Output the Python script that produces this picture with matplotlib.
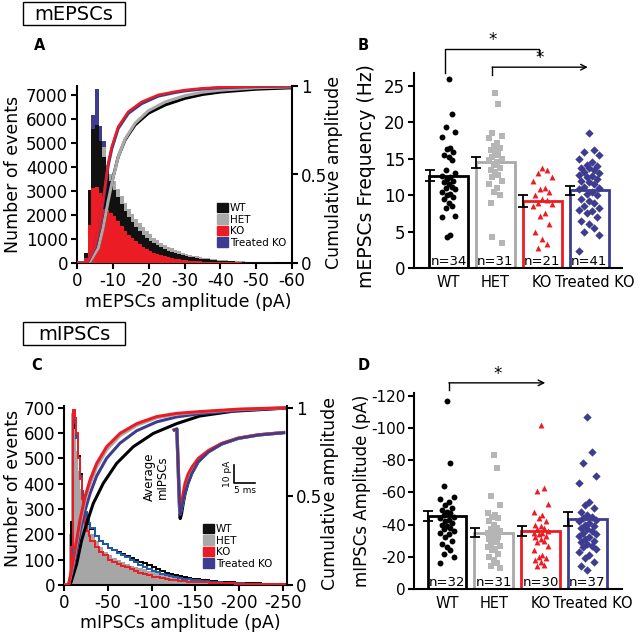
import numpy as np
import matplotlib
matplotlib.use("Agg")
import matplotlib.pyplot as plt
from matplotlib.patches import Patch, Rectangle

plt.rcParams["font.family"] = ["DejaVu Sans"]

# ---------------- data ----------------
groups = ["WT", "HET", "KO", "Treated KO"]

# panel A: mEPSC amplitude histograms, 1 pA bins from 0 to 60
wt_hist_a = [0, 50, 400, 3040, 5600, 5750, 5100, 4400, 3900, 3400,
             3050, 2750, 2450, 2150, 1900, 1700, 1500, 1330, 1180, 1050,
             930, 820, 730, 650, 580, 515, 460, 410, 365, 325,
             290, 258, 230, 205, 183, 163, 146, 130, 116, 104,
             93, 83, 74, 66, 59, 53, 47, 42, 38, 34,
             31, 28, 25, 23, 21, 19, 18, 17, 16, 15]
het_hist_a = [0, 30, 300, 2600, 5000, 5300, 4700, 4850, 4100, 3700,
              3400, 3100, 2800, 2500, 2250, 2030, 1830, 1650, 1480, 1330,
              1190, 1060, 950, 850, 760, 680, 605, 540, 480, 430,
              385, 345, 308, 275, 245, 218, 195, 174, 155, 138,
              123, 110, 98, 88, 79, 71, 64, 58, 52, 47,
              43, 39, 36, 33, 30, 28, 26, 24, 22, 20]
ko_hist_a = [0, 20, 200, 1600, 3130, 3180, 2900, 2250, 2200, 2100,
             1950, 1750, 1550, 1350, 1180, 1030, 900, 780, 670, 580,
             500, 430, 370, 320, 275, 235, 200, 172, 148, 128,
             110, 96, 84, 74, 65, 58, 52, 47, 42, 38,
             34, 31, 28, 25, 23, 21, 19, 17, 15, 14,
             13, 12, 11, 10, 9, 9, 8, 8, 7, 7]
tko_hist_a = [0, 30, 300, 3000, 6170, 7240, 5700, 5100, 3800, 3300,
              2900, 2550, 2250, 1950, 1700, 1480, 1290, 1120, 980, 850,
              740, 640, 560, 490, 430, 375, 330, 290, 255, 225,
              200, 178, 158, 140, 124, 110, 98, 87, 77, 69,
              61, 54, 48, 43, 38, 34, 30, 27, 24, 22,
              20, 18, 16, 15, 14, 13, 12, 11, 10, 9]

# panel A: cumulative amplitude curves
cum_amp_a_fast = [0, 2.5, 3, 5, 6.4, 7.8, 8.7, 9.7, 11.5, 14.3, 18, 22.7, 27.3, 30, 35, 40, 50, 60]
ko_cum_a = [0, 0, 0.007, 0.09, 0.24, 0.43, 0.563, 0.657, 0.77, 0.855, 0.91, 0.95, 0.968, 0.977, 0.987, 0.993, 0.998, 1.0]
tko_cum_a = [0, 0, 0.006, 0.085, 0.23, 0.42, 0.55, 0.645, 0.76, 0.845, 0.9, 0.943, 0.963, 0.972, 0.983, 0.99, 0.997, 1.0]
cum_amp_a_slow = [0, 3, 3.6, 5.95, 7.3, 8.7, 10.1, 11.5, 13.4, 16.2, 19.9, 24.6, 30.1, 35, 40, 50, 60]
wt_cum_a = [0, 0, 0.007, 0.09, 0.205, 0.356, 0.488, 0.6, 0.695, 0.78, 0.846, 0.893, 0.93, 0.952, 0.966, 0.982, 0.99]
het_cum_a = [0, 0, 0.007, 0.085, 0.2, 0.35, 0.485, 0.6, 0.7, 0.79, 0.86, 0.91, 0.945, 0.965, 0.976, 0.99, 0.995]

# panel B: mEPSC frequency (Hz)
freq_mean = [12.7, 14.5, 9.2, 10.7]
freq_sem = [0.8, 0.8, 0.8, 0.6]
freq_n = [34, 31, 21, 41]
freq_wt = [26.0, 21.2, 19.4, 18.7, 18.0, 16.5, 16.3, 16.0, 15.5, 15.3, 14.8, 13.5, 13.0, 12.7, 12.5, 12.3, 12.0,
           11.8, 11.5, 11.2, 11.0, 10.8, 10.5, 10.2, 10.0, 9.8, 9.5, 9.0, 8.5, 8.2, 7.2, 7.0, 4.5, 4.2]
freq_het = [24.0, 22.5, 18.5, 18.2, 17.8, 17.2, 16.8, 16.5, 16.2, 16.0, 15.7, 15.3, 15.0, 14.8, 14.5, 14.2,
            13.8, 13.5, 13.2, 12.8, 12.5, 12.0, 11.5, 11.0, 10.5, 10.0, 9.0, 13.0, 15.5, 4.2, 3.5]
freq_ko = [13.8, 13.5, 13.0, 12.5, 12.0, 11.0, 10.8, 10.5, 10.0, 9.5, 9.3, 9.0, 8.8, 8.5, 7.5, 7.2, 6.0, 5.0,
           4.0, 3.3, 2.8]
freq_tko = [18.5, 16.2, 16.0, 15.5, 15.0, 14.5, 14.2, 14.0, 13.8, 13.7, 13.5, 13.2, 13.0, 12.8, 12.7, 12.5,
            12.2, 12.0, 11.8, 11.5, 11.2, 11.0, 10.8, 10.5, 10.2, 10.0, 9.5, 9.2, 9.0, 8.5, 8.2, 8.0, 7.8, 7.5,
            7.0, 6.5, 6.0, 5.5, 5.0, 4.5, 2.3]

# panel C: mIPSC amplitude histograms (2 pA bins to 30, then 5 pA bins)
wt_hist_c = [0, 0, 0, 20, 250, 620, 640, 590, 510, 440, 370, 320, 285, 260, 240,
             220, 195, 175, 160, 148, 140, 132, 124, 116, 108, 100, 92, 85, 78, 70,
             62, 55, 49, 44, 40, 36, 32, 28, 25, 22, 20, 18, 16, 14, 13,
             12, 11, 10, 9, 8, 8, 7, 6, 6, 5, 5, 4, 4, 3, 3]
het_hist_c = [0, 0, 10, 200, 680, 695, 620, 530, 450, 380, 330, 295, 265, 240, 215,
              200, 175, 150, 132, 118, 105, 98, 90, 84, 76, 70, 66, 62, 56, 52,
              48, 44, 40, 38, 35, 32, 28, 26, 23, 21, 19, 17, 15, 13, 12,
              11, 10, 9, 8, 7, 6, 6, 5, 5, 4, 4, 3, 3, 3, 2]
ko_hist_c = [0, 0, 0, 20, 150, 690, 660, 600, 500, 420, 340, 280, 240, 215, 195,
             175, 150, 132, 118, 100, 92, 82, 76, 70, 62, 55, 48, 42, 38, 33,
             30, 26, 22, 20, 18, 16, 14, 13, 12, 11, 10, 10, 9, 8, 7,
             7, 6, 6, 5, 5, 4, 4, 4, 3, 3, 3, 2, 2, 2, 2]
tko_hist_c = [0, 0, 0, 10, 100, 650, 640, 580, 500, 430, 370, 320, 290, 265, 245,
              225, 195, 175, 160, 148, 138, 125, 118, 110, 98, 90, 80, 72, 64, 56,
              50, 44, 40, 35, 31, 28, 25, 22, 20, 18, 16, 14, 12, 11, 10,
              9, 8, 7, 6, 6, 5, 5, 4, 4, 3, 3, 3, 2, 2, 2]

# panel C: cumulative curves
cum_amp_c = [0, 5, 6, 10.6, 14.5, 18.3, 24, 29.7, 37.3, 48.7, 63.9, 83, 105.8, 128.6, 155, 200, 255]
ko_cum_c = [0, 0, 0.02, 0.14, 0.254, 0.367, 0.498, 0.592, 0.686, 0.78, 0.855, 0.91, 0.95, 0.968, 0.978, 0.992, 1.0]
het_cum_c = [0, 0, 0.018, 0.125, 0.235, 0.345, 0.475, 0.57, 0.665, 0.762, 0.842, 0.9, 0.943, 0.963, 0.975, 0.99, 1.0]
tko_cum_c = [0, 0, 0.015, 0.1, 0.2, 0.3, 0.42, 0.515, 0.615, 0.715, 0.8, 0.87, 0.92, 0.948, 0.966, 0.985, 0.999]
cum_amp_c_wt = [0, 6, 8, 14.5, 20.2, 25.9, 33.4, 44.9, 60.1, 79.1, 102, 128.6, 155, 193, 255]
wt_cum_c = [0, 0, 0.015, 0.12, 0.254, 0.348, 0.46, 0.574, 0.686, 0.78, 0.855, 0.91, 0.953, 0.98, 0.998]

# panel C inset: average mIPSC traces (ms, pA)
trace_t = [0, 0.6, 0.9, 1.2, 1.4, 1.7, 2.1, 2.5, 3.2, 4.1, 5.6, 8.0, 11.1, 15.0, 19.7, 25.6]
trace_wt = [0, 0.5, -20, -42, -50, -47, -41, -36, -30, -24.5, -18, -12.3, -7.9, -4.7, -2.8, -1.5]
trace_het = [0, 0.5, -19, -40, -47, -44, -39, -34.5, -29, -24, -17.8, -12.2, -7.8, -4.7, -2.8, -1.5]
trace_ko = [0, 0.5, -19, -39, -45, -41, -35, -30, -25, -21, -16, -11.5, -7.5, -4.6, -2.7, -1.5]
trace_tko = [0, 0.5, -19, -41, -48, -45, -40, -35.5, -30, -24.5, -18, -12.5, -8, -4.8, -2.9, -1.6]

# panel D: mIPSC amplitude (pA, shown as negative)
ampl_mean = [45.3, 35.0, 36.0, 43.5]
ampl_sem = [3.0, 3.0, 3.4, 4.2]
ampl_n = [32, 31, 30, 37]
ampl_wt = [117, 78, 64, 57, 56, 54, 52, 50, 49, 48, 47, 46, 45, 44, 43, 42, 41, 40, 39, 38, 37, 36, 35, 34,
           32, 30, 28, 26, 24, 22, 20, 16]
ampl_het = [83, 75, 58, 52, 47, 46, 45, 44, 42, 40, 38, 37, 36, 35, 34, 33, 32, 31, 30, 29, 28, 27, 26, 25,
            24, 22, 20, 18, 16, 14, 13]
ampl_ko = [102, 63, 61, 53, 48, 46, 44, 42, 40, 39, 38, 37, 36, 35, 34.5, 34, 33, 32, 31, 30, 29, 27, 24, 21,
           20, 19, 18, 17, 15, 14]
ampl_tko = [107, 85, 78, 70, 66, 54, 52, 50, 48, 46, 45, 44, 43, 42, 41, 40, 39, 38, 37, 36, 35, 34, 33, 32,
            31, 30, 29, 28, 27, 26, 25, 23, 21, 19, 17, 14, 12]

# ---------------- style ----------------
c_wt = "#000000"
c_het = "#a9a9a9"
c_ko = "#ec1c24"
c_tko = "#3d3c8f"
c_tko_line = "#1f5ba6"
colors = [c_wt, c_het, c_ko, c_tko]
markers = ["o", "s", "^", "D"]

W, H = 640, 637


def rect(l, t, r, b):
    return [l / W, 1 - b / H, (r - l) / W, (b - t) / H]


def fpos(x, y):
    return x / W, 1 - y / H


fig = plt.figure(figsize=(6.4, 6.37), dpi=100)


def style_axis(ax, spines=("left", "bottom")):
    for s in ["left", "right", "top", "bottom"]:
        ax.spines[s].set_visible(s in spines)
        ax.spines[s].set_linewidth(1.5)
    ax.tick_params(direction="out", length=4, width=1.5, labelsize=12, pad=2.5)
    ax.patch.set_alpha(0)


def neg_labels(ticks):
    return ["0" if t == 0 else "-%g" % t for t in ticks]


# ---------------- panel A ----------------
axA = fig.add_axes(rect(77, 86, 292, 263))
edges_a = np.arange(0, 61)
axA.stairs(tko_hist_a, edges_a, fill=True, color=c_tko, zorder=1)
axA.stairs(het_hist_a, edges_a, fill=True, color=c_het, zorder=2)
axA.stairs(wt_hist_a, edges_a, fill=True, color="#111111", zorder=3)
axA.stairs(ko_hist_a, edges_a, fill=True, color=c_ko, zorder=4)
axA.set_xlim(0, 60)
axA.set_ylim(0, 7375)
axA.set_yticks(range(0, 7001, 1000))
xt = [0, 10, 20, 30, 40, 50, 60]
axA.set_xticks(xt)
axA.set_xticklabels(neg_labels(xt))
style_axis(axA)

axA2 = axA.twinx()
axA2.plot(cum_amp_a_slow, wt_cum_a, color=c_wt, lw=2.2)
axA2.plot(cum_amp_a_slow, het_cum_a, color=c_het, lw=2.2)
axA2.plot(cum_amp_a_fast, tko_cum_a, color=c_tko, lw=2.2)
axA2.plot(cum_amp_a_fast, ko_cum_a, color=c_ko, lw=1.8)
axA2.set_ylim(0, 1.0)
axA2.set_xlim(0, 60)
axA2.set_yticks([0, 0.5, 1])
axA2.set_yticklabels(["0", "0.5", "1"])
style_axis(axA2, spines=("right",))

fig.legend(handles=[Patch(color=c, label=g) for c, g in zip(["#111111", c_het, c_ko, c_tko], groups)],
           loc="upper left", bbox_to_anchor=fpos(217, 203), frameon=False, fontsize=7.5,
           handlelength=1.1, handleheight=1.0, handletextpad=0.15, labelspacing=0.12,
           borderpad=0, borderaxespad=0)

# ---------------- panel C ----------------
axC = fig.add_axes(rect(64, 406, 287, 585))
edges_c = list(range(0, 30, 2)) + list(range(30, 256, 5))
axC.stairs(het_hist_c, edges_c, fill=True, color="#a6a6a6", zorder=1)
axC.stairs(wt_hist_c, edges_c, color=c_wt, lw=1.4, zorder=2)
axC.stairs(tko_hist_c, edges_c, color=c_tko_line, lw=1.4, zorder=3)
axC.stairs(ko_hist_c, edges_c, color=c_ko, lw=1.4, zorder=4)
axC.set_xlim(0, 254.6)
axC.set_ylim(0, 706.7)
axC.set_yticks(range(0, 701, 100))
xtc = [0, 50, 100, 150, 200, 250]
axC.set_xticks(xtc)
axC.set_xticklabels(neg_labels(xtc))
style_axis(axC)

axC2 = axC.twinx()
axC2.plot(cum_amp_c_wt, wt_cum_c, color=c_wt, lw=2.2)
axC2.plot(cum_amp_c, tko_cum_c, color=c_tko, lw=2.2)
axC2.plot(cum_amp_c, het_cum_c, color=c_het, lw=2.2)
axC2.plot(cum_amp_c, ko_cum_c, color=c_ko, lw=2.2)
axC2.set_ylim(0, 1.0096)
axC2.set_xlim(0, 254.6)
axC2.set_yticks([0, 0.5, 1])
axC2.set_yticklabels(["0", "0.5", "1"])
style_axis(axC2, spines=("right",))

fig.legend(handles=[Patch(color=c, label=g) for c, g in zip(["#111111", c_het, c_ko, c_tko], groups)],
           loc="upper left", bbox_to_anchor=fpos(203, 524), frameon=False, fontsize=7.5,
           handlelength=1.1, handleheight=1.0, handletextpad=0.15, labelspacing=0.12,
           borderpad=0, borderaxespad=0)

# inset traces
axI = fig.add_axes(rect(170, 425, 290, 525))
axI.axis("off")
axI.plot(trace_t, trace_wt, color=c_wt, lw=2.4)
axI.plot(trace_t, trace_het, color=c_het, lw=2.4)
axI.plot(trace_t, trace_ko, color=c_ko, lw=2.0)
axI.plot(trace_t, trace_tko, color=c_tko, lw=1.8)
axI.set_xlim(-1.0, 27.1)
axI.set_ylim(-53.7, 2.8)
axI.plot([14.0, 14.0, 19.0], [-19.8, -29.8, -29.8], color="black", lw=1.2)
axI.text(12.4, -24.8, "10 pA", rotation=90, ha="center", va="center", fontsize=6.5)
axI.text(16.6, -34.0, "5 ms", ha="center", va="center", fontsize=6.5)
fig.text(*fpos(156, 477), "Average\nmIPSCs", rotation=90, ha="center", va="center",
         fontsize=8.5, linespacing=1.0, multialignment="center")


# ---------------- bar panels ----------------
def bar_panel(ax, means, sems, ns, points, spreads, top, n_y):
    x = np.arange(4)
    ax.bar(x, means, width=0.83, facecolor="white", edgecolor=colors, linewidth=2, zorder=1)
    ax.errorbar(x - 0.405, means, yerr=sems, fmt="none", ecolor="black", elinewidth=1.3,
                capsize=3.5, capthick=1.3, zorder=2)
    pattern = [0, 0.5, -0.5, 1, -1, 0.25, -0.25, 0.75, -0.75]
    for i, vals in enumerate(points):
        xs = [i + pattern[k % len(pattern)] * spreads[i] for k in range(len(vals))]
        ax.scatter(xs, vals, s=18, marker=markers[i], color=colors[i] if i != 1 else "#b5b5b5",
                   linewidths=0, zorder=3, clip_on=False)
        ax.text(i, n_y, "n=%d" % ns[i], ha="center", va="center", fontsize=9.5, zorder=4)
    # label positions: the last label sits a little right of its bar
    ax.set_xticks([0, 1, 2, 3.12])
    ax.set_xticklabels(groups, fontsize=10.5)
    ax.tick_params(axis="x", length=0, pad=5)
    ax.set_ylim(0, top)


axB = fig.add_axes(rect(414, 73, 622, 268))
style_axis(axB)
bar_panel(axB, freq_mean, freq_sem, freq_n, [freq_wt, freq_het, freq_ko, freq_tko],
          [0.13, 0.13, 0.2, 0.22], 26.8, 0.96)
axB.set_xlim(-0.737, 3.7)
axB.set_yticks([0, 5, 10, 15, 20, 25])
# significance marks
axB.plot([-0.07, -0.07, 1.93, 1.93], [26.8, 30.1, 30.1, 29.3], color="black", lw=1, clip_on=False)
axB.text(0.93, 30.1, "*", ha="center", va="bottom", fontsize=12)
axB.plot([0.93, 0.93], [26.5, 27.6], color="black", lw=1, clip_on=False)
axB.annotate("", xy=(2.97, 27.6), xytext=(0.93, 27.6), annotation_clip=False,
             arrowprops=dict(arrowstyle="->", lw=1, color="black", shrinkA=0, shrinkB=0))
axB.text(1.95, 27.6, "*", ha="center", va="bottom", fontsize=12)

axD = fig.add_axes(rect(414, 393, 622, 589))
style_axis(axD)
bar_panel(axD, ampl_mean, ampl_sem, ampl_n, [ampl_wt, ampl_het, ampl_ko, ampl_tko],
          [0.14, 0.13, 0.15, 0.18], 121.7, 4.3)
axD.set_xlim(-0.705, 3.74)
yd = [0, 20, 40, 60, 80, 100, 120]
axD.set_yticks(yd)
axD.set_yticklabels(neg_labels(yd))
axD.tick_params(axis="y", labelsize=11, pad=2)
axD.plot([0.04, 0.04], [123.6, 128], color="black", lw=1, clip_on=False)
axD.annotate("", xy=(2.1, 128), xytext=(0.04, 128), annotation_clip=False,
             arrowprops=dict(arrowstyle="->", lw=1, color="black", shrinkA=0, shrinkB=0))
axD.text(1.09, 128, "*", ha="center", va="bottom", fontsize=12)

# ---------------- labels ----------------
lab = 12.5
fig.text(*fpos(13, 174), "Number of events", rotation=90, ha="center", va="center", fontsize=lab)
fig.text(*fpos(188, 302), "mEPSCs amplitude (pA)", ha="center", va="center", fontsize=lab)
fig.text(*fpos(334, 172), "Cumulative amplitude", rotation=90, ha="center", va="center", fontsize=lab)
fig.text(*fpos(366, 176), "mEPSCs Frequency (Hz)", rotation=90, ha="center", va="center", fontsize=13.5)
fig.text(*fpos(13, 488), "Number of events", rotation=90, ha="center", va="center", fontsize=lab)
fig.text(*fpos(180, 623), "mIPSCs amplitude (pA)", ha="center", va="center", fontsize=lab)
fig.text(*fpos(330, 493), "Cumulative amplitude", rotation=90, ha="center", va="center", fontsize=lab)
fig.text(*fpos(362, 491), "mIPSCs Amplitude (pA)", rotation=90, ha="center", va="center", fontsize=12)

for letter, (lx, ly) in [("A", (40, 45)), ("B", (363, 45)), ("C", (37, 365)), ("D", (364, 366))]:
    fig.text(*fpos(lx, ly), letter, ha="center", va="center", fontsize=10.5, fontweight="bold")

for title, top in [("mEPSCs", 2), ("mIPSCs", 322)]:
    fig.patches.append(Rectangle(fpos(23, top + 23), 102 / W, 23 / H, transform=fig.transFigure,
                                 fill=False, lw=1, edgecolor="black"))
    fig.text(*fpos(74, top + 12), title, ha="center", va="center", fontsize=14)

fig.savefig("out.png", dpi=100)
